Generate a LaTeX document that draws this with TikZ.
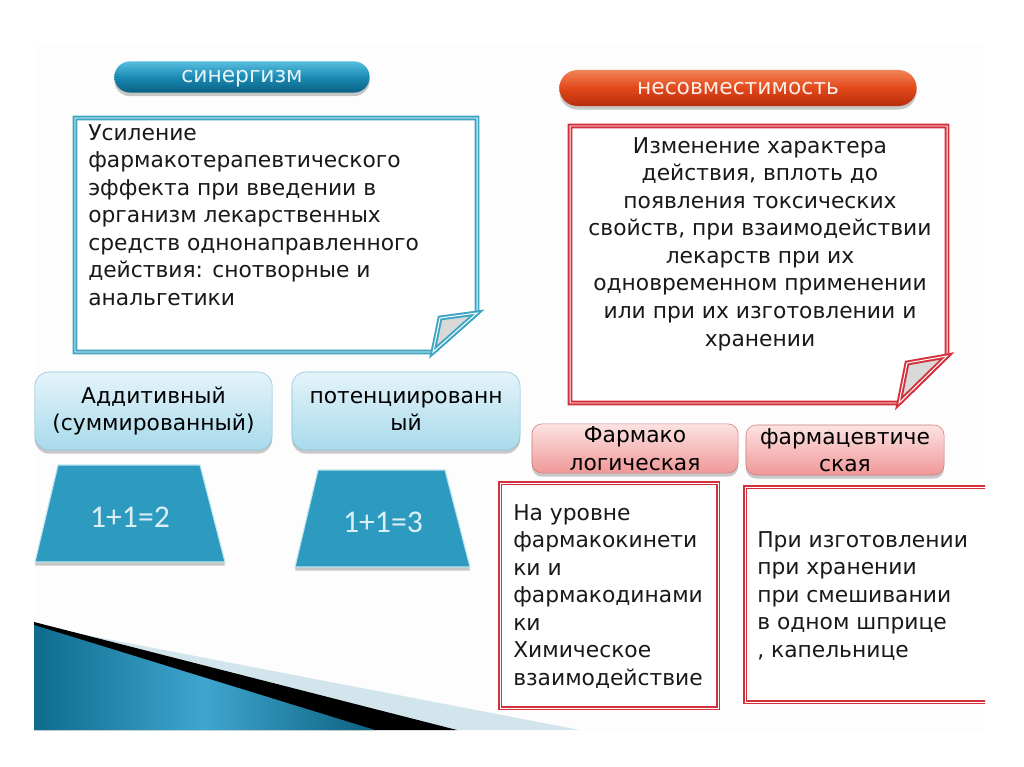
\documentclass[tikz,border=0pt]{standalone}
\usepackage{fontspec}
\setmainfont{DejaVu Sans}
\newfontfamily\numfont{Carlito}
\usetikzlibrary{positioning,shadows}
\newcommand\slidefont{\fontsize{15.5}{19.6}\selectfont}
\definecolor{slidebg}{HTML}{FDFDFD}
\definecolor{synmid}{HTML}{1A8AB4}
\definecolor{syntop}{HTML}{58BEDF}
\definecolor{synbot}{HTML}{0A6082}
\definecolor{incmid}{HTML}{E2481A}
\definecolor{inctop}{HTML}{F28558}
\definecolor{incbot}{HTML}{B62E0C}
\definecolor{noteblue}{HTML}{3EA6C4}
\definecolor{notered}{HTML}{D3303C}
\definecolor{foldgray}{HTML}{D9D9D9}
\definecolor{ltop}{HTML}{E4F4FA}
\definecolor{lbot}{HTML}{A8DAEB}
\definecolor{lborder}{HTML}{8CC3D6}
\definecolor{ptop}{HTML}{FDE3E3}
\definecolor{pbot}{HTML}{F09797}
\definecolor{pborder}{HTML}{CF7F7F}
\definecolor{trapblue}{HTML}{2D9BBF}
\definecolor{traplight}{HTML}{BFE4F0}
\definecolor{numwhite}{HTML}{DCEFF6}
\definecolor{wedgedark}{HTML}{0E6B8D}
\definecolor{wedgemid}{HTML}{3FA6CF}
\definecolor{wedgelight}{HTML}{D3E5EC}
\tikzset{
  softshadow/.style={drop shadow={shadow xshift=0pt, shadow yshift=-2.5pt, opacity=0.3, fill=black!70}},
  synpill/.style={rounded corners=0.39cm, minimum width=6.38cm, minimum height=0.78cm, inner sep=0pt, top color=syntop, bottom color=synbot, middle color=synmid, softshadow},
  incpill/.style={rounded corners=0.45cm, minimum width=8.93cm, minimum height=0.9cm, inner sep=0pt, top color=inctop, bottom color=incbot, middle color=incmid, softshadow},
  pilltext/.style={anchor=base, inner sep=0pt},
  bluenote/.style={draw=noteblue, line width=1.4pt, double=white, double distance=0.7pt, line join=miter},
  rednote/.style={draw=notered, line width=1.4pt, double=white, double distance=0.7pt, line join=miter},
  kindbox/.style={draw=lborder, rounded corners=0.35cm, top color=ltop, bottom color=lbot, minimum height=1.95cm, inner sep=0pt, align=center, softshadow},
  reasonbox/.style={draw=pborder, rounded corners=0.25cm, top color=ptop, bottom color=pbot, inner sep=0pt, align=center, softshadow},
  trapstyle/.style={fill=trapblue, draw=traplight, line width=0.8pt, softshadow},
  notetext/.style={inner sep=0pt, text=black!90},
  numtext/.style={font=\numfont\fontsize{22.5}{24}\selectfont, text=numwhite, inner sep=0pt}
}
\begin{document}
\begin{tikzpicture}[x=0.025cm, y=-0.025cm, every node/.style={font=\slidefont}]
  \useasboundingbox (0,0) rectangle (1024,767);
  \fill[white] (0,0) rectangle (1024,767);
  \fill[slidebg] (34,42) rectangle (985,730);

  % bottom wedge
  \fill[wedgelight] (34,625) -- (580,730) -- (34,730) -- cycle;
  \fill[black] (34,622) -- (457,730) -- (34,730) -- cycle;
  \shade[left color=wedgedark, right color=wedgedark!90!black, middle color=wedgemid] (34,625) -- (375,730) -- (34,730) -- cycle;

  % titles
  \node[synpill] (syn) at (242,77) {};
  \node[pilltext, text=white!90!synmid] (synlabel) at (242,83) {синергизм};
  \node[incpill] (inc) at (738,88) {};
  \node[pilltext, text=white!90!incmid] (inclabel) at (738,95) {несовместимость};

  % synergism note
  \draw[bluenote, fill=white] (75,118) -- (477,118) -- (477,313) -- (433,352) -- (75,352) -- cycle;
  \draw[bluenote, fill=foldgray] (477,313) -- (440,318) -- (433,352) -- cycle;
  \node[notetext, anchor=north west, align=left] (syntext) at (88,124) {Усиление\\фармакотерапевтического\\эффекта при введении в\\организм лекарственных\\средств однонаправленного\\действия: снотворные и\\анальгетики};

  % incompatibility note
  \draw[rednote, fill=white] (570,126) -- (947,126) -- (947,356) -- (899,403) -- (570,403) -- cycle;
  \draw[rednote, fill=foldgray] (947,356) -- (907,363) -- (899,403) -- cycle;
  \node[notetext, anchor=north, align=center] (inctext) at (760,137) {Изменение характера\\действия, вплоть до\\появления токсических\\свойств, при взаимодействии\\лекарств при их\\одновременном применении\\или при их изготовлении и\\хранении};

  % kinds of synergism
  \node[kindbox, minimum width=5.93cm] (additive) at (153.5,411) {Аддитивный\\(суммированный)};
  \node[kindbox, minimum width=5.7cm] (potent) at (406,411) {потенциированн\\ый};
  \filldraw[trapstyle] (58,465) -- (200,465) -- (225,562) -- (35,562) -- cycle;
  \node[numtext] (addsum) at (130,517) {1+1=2};
  \filldraw[trapstyle] (318,470) -- (445,470) -- (470,567) -- (295,567) -- cycle;
  \node[numtext] (potsum) at (383,522) {1+1=3};

  % kinds of incompatibility
  \node[reasonbox, minimum width=5.15cm, minimum height=1.23cm] (pharmlog) at (635,448.5) {Фармако\\логическая};
  \node[reasonbox, minimum width=4.95cm, minimum height=1.25cm] (pharmtech) at (845,450) {фармацевтиче\\ская};

  \draw[rednote, fill=white] (500,483) rectangle (718,708);
  \node[notetext, anchor=north west, align=left] (logtext) at (513,504) {На уровне\\фармакокинети\\ки и\\фармакодинами\\ки\\Химическое\\взаимодействие};
  \begin{scope}
    \clip (34,42) rectangle (985,730);
    \draw[rednote, fill=white] (745,487) rectangle (1000,702);
  \end{scope}
  \node[notetext, anchor=north west, align=left] (techtext) at (757,531) {При изготовлении\\при хранении\\при смешивании\\в одном шприце\\, капельнице};
\end{tikzpicture}
\end{document}
